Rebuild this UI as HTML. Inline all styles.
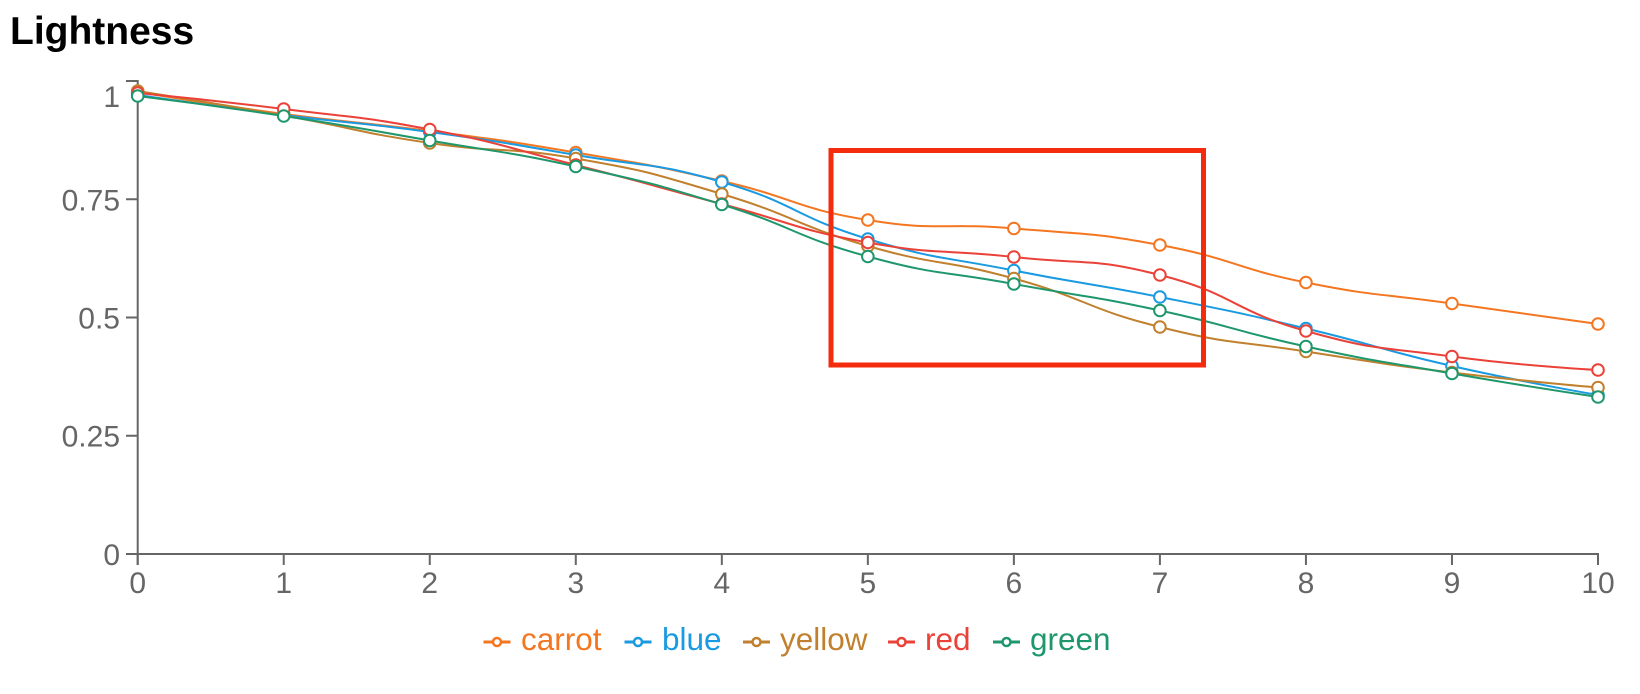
<!DOCTYPE html>
<html>
<head>
<meta charset="utf-8">
<style>
  html,body{margin:0;padding:0;background:#fff;}
  svg{display:block;}
  text{font-family:"Liberation Sans", Arial, sans-serif;}
</style>
</head>
<body>
<svg id="chart" width="1640" height="694" viewBox="0 0 1640 694" xmlns="http://www.w3.org/2000/svg">
  <rect x="0" y="0" width="1640" height="694" fill="#fff"/>
  <text x="10" y="44" font-size="39" font-weight="bold" fill="#000">Lightness</text>

  <!-- axes -->
  <g stroke="#666" stroke-width="2" fill="none">
    <line x1="137.7" y1="80" x2="137.7" y2="565"/>
    <line x1="126" y1="554" x2="1599" y2="554"/>
    <line x1="126" y1="81" x2="137.7" y2="81"/>
    <line x1="126" y1="435.75" x2="137.7" y2="435.75"/>
    <line x1="126" y1="317.5" x2="137.7" y2="317.5"/>
    <line x1="126" y1="199.25" x2="137.7" y2="199.25"/>
    <line x1="126" y1="554" x2="137.7" y2="554"/>
  </g>
  <g id="xticks" stroke="#666" stroke-width="2"></g>

  <g fill="#666" font-size="30" text-anchor="end">
    <text x="120" y="107">1</text>
    <text x="120" y="210.5">0.75</text>
    <text x="120" y="328.5">0.5</text>
    <text x="120" y="446.5">0.25</text>
    <text x="120" y="565">0</text>
  </g>
  <g id="xlabels" fill="#666" font-size="30" text-anchor="middle"></g>

  <g id="series"></g>

  <!-- highlight box -->
  <rect x="831" y="150.5" width="372.5" height="214.5" fill="none" stroke="#f42b0c" stroke-width="5"/>

  <!-- legend -->
  <g font-size="31.5">
    <g stroke="#f47620" fill="#f47620">
      <line x1="483.5" y1="642" x2="510.5" y2="642" stroke-width="3"/>
      <circle cx="497" cy="642" r="4" fill="#fff" stroke-width="2.5"/>
      <text x="521" y="650" stroke="none">carrot</text>
    </g>
    <g stroke="#1a9ae0" fill="#1a9ae0">
      <line x1="624.5" y1="642" x2="651.5" y2="642" stroke-width="3"/>
      <circle cx="638" cy="642" r="4" fill="#fff" stroke-width="2.5"/>
      <text x="662" y="650" stroke="none">blue</text>
    </g>
    <g stroke="#c0802e" fill="#c0802e">
      <line x1="743" y1="642" x2="770" y2="642" stroke-width="3"/>
      <circle cx="756.5" cy="642" r="4" fill="#fff" stroke-width="2.5"/>
      <text x="780" y="650" stroke="none">yellow</text>
    </g>
    <g stroke="#ea4238" fill="#ea4238">
      <line x1="888" y1="642" x2="915" y2="642" stroke-width="3"/>
      <circle cx="901.5" cy="642" r="4" fill="#fff" stroke-width="2.5"/>
      <text x="925" y="650" stroke="none">red</text>
    </g>
    <g stroke="#1f976c" fill="#1f976c">
      <line x1="993" y1="642" x2="1020" y2="642" stroke-width="3"/>
      <circle cx="1006.5" cy="642" r="4" fill="#fff" stroke-width="2.5"/>
      <text x="1030" y="650" stroke="none">green</text>
    </g>
  </g>
</svg>
<script>
(function(){
  var NS="http://www.w3.org/2000/svg";
  var x0=137.7, dx=146.03;
  var xt=document.getElementById("xticks"), xl=document.getElementById("xlabels");
  for(var i=0;i<=10;i++){
    var x=x0+dx*i;
    var l=document.createElementNS(NS,"line");
    l.setAttribute("x1",x);l.setAttribute("x2",x);l.setAttribute("y1",554);l.setAttribute("y2",565);
    xt.appendChild(l);
    var t=document.createElementNS(NS,"text");
    t.setAttribute("x",x);t.setAttribute("y",593);t.textContent=String(i);
    xl.appendChild(t);
  }
  var series=[
    {c:"#f47620",y:[92,114,131,152.5,181,220,228.5,245,282.5,303.5,324]},
    {c:"#1a9ae0",y:[95,115,132,155,182,239,270.5,297,328.5,366,395]},
    {c:"#c0802e",y:[91,115.5,143,158.5,194,246,278.5,327,351.5,372.5,387.5]},
    {c:"#ea4238",y:[93,109,129.5,165,204,242.5,257,275,331,356.5,370]},
    {c:"#1f976c",y:[96,116,140.5,166.5,204.5,256.5,284,310.5,346.5,373.5,397]}
  ];
  var smooth=0.5;
  var g=document.getElementById("series");
  series.forEach(function(s){
    var pts=s.y.map(function(v,i){return [x0+dx*i,v];});
    var n=pts.length;
    var cpOut=[],cpIn=[];
    for(var i=0;i<n;i++){
      var p=pts[i];
      if(i===0||i===n-1){cpOut[i]=p;cpIn[i]=p;continue;}
      var pr=pts[i-1],nx=pts[i+1];
      var vx=nx[0]-pr[0],vy=nx[1]-pr[1];
      var d0=Math.hypot(p[0]-pr[0],p[1]-pr[1]);
      var d1=Math.hypot(nx[0]-p[0],nx[1]-p[1]);
      var r=d1/(d0+d1);
      cpOut[i]=[p[0]+vx*smooth*r,p[1]+vy*smooth*r];
      cpIn[i]=[p[0]-vx*smooth*(1-r),p[1]-vy*smooth*(1-r)];
    }
    var d="M"+pts[0][0]+","+pts[0][1];
    for(var i=1;i<n;i++){
      d+=" C"+cpOut[i-1][0]+","+cpOut[i-1][1]+" "+cpIn[i][0]+","+cpIn[i][1]+" "+pts[i][0]+","+pts[i][1];
    }
    var path=document.createElementNS(NS,"path");
    path.setAttribute("d",d);path.setAttribute("fill","none");
    path.setAttribute("stroke",s.c);path.setAttribute("stroke-width","2");
    g.appendChild(path);
  });
  series.forEach(function(s){
    s.y.forEach(function(v,i){
      var c=document.createElementNS(NS,"circle");
      c.setAttribute("cx",x0+dx*i);c.setAttribute("cy",v);c.setAttribute("r","5.8");
      c.setAttribute("fill","#fff");c.setAttribute("stroke",s.c);c.setAttribute("stroke-width","2");
      g.appendChild(c);
    });
  });
})();
</script>
</body>
</html>
